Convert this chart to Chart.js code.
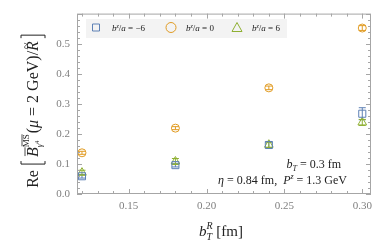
<!DOCTYPE html>
<html>
<head>
<meta charset="utf-8">
<script src="https://cdn.jsdelivr.net/npm/chart.js@4.4.1/dist/chart.umd.min.js"></script>
<style>
  html, body { margin: 0; padding: 0; background: #fff; }
  #wrap { width: 382px; height: 243px; }
</style>
</head>
<body>
<div id="wrap"><canvas id="chart"></canvas></div>
<script>
// data
const bR = [0.12, 0.18, 0.24, 0.30];
const seriesNames = ["-6", "0", "6"];
const valsM6 = [0.059, 0.096, 0.163, 0.267];
const errM6 = [0.006, 0.006, 0.009, 0.020];
const vals0 = [0.137, 0.219, 0.353, 0.552];
const err0 = [0.005, 0.005, 0.006, 0.008];
const valsP6 = [0.071, 0.108, 0.164, 0.238];
const errP6 = [0.008, 0.010, 0.010, 0.010];
const xTicks = [0.15, 0.20, 0.25, 0.30];
const yTicks = [0.0, 0.1, 0.2, 0.3, 0.4, 0.5];

const BLUE = "#5E81B5", ORANGE = "#E19C24", GREEN = "#8FB032";
const SERIF = "'Liberation Serif', 'DejaVu Serif', serif";

function pts(ys) {
    return bR.map((x, i) => ({ x: x, y: ys[i] }));
}

// small rich-text helper: parts drawn left to right on a baseline
function partWidth(ctx, p) {
    if (p.gap) return p.gap;
    if (p.bracket) return 5;
    if (p.stack) return Math.max(...p.stack.map(row => row.reduce((s, q) => s + partWidth(ctx, q), 0)));
    ctx.font = p.f;
    return ctx.measureText(p.t).width;
}
function drawParts(ctx, parts, x, y) {
    parts.forEach(p => {
        const w = partWidth(ctx, p);
        if (p.stack) {
            p.stack.forEach(row => drawParts(ctx, row, x, y));
        } else if (p.bracket) {
            ctx.beginPath();
            const x0 = p.bracket === "[" ? x + 4 : x + 1;
            const x1 = p.bracket === "[" ? x + 1 : x + 4;
            ctx.moveTo(x0, y - 17); ctx.lineTo(x1, y - 17);
            ctx.lineTo(x1, y + 7); ctx.lineTo(x0, y + 7);
            ctx.lineWidth = 1; ctx.stroke();
        } else if (!p.gap) {
            ctx.font = p.f;
            const yy = y + (p.dy || 0);
            ctx.fillText(p.t, x, yy);
            if (p.over) {
                ctx.beginPath();
                ctx.moveTo(x + 1, yy - p.over); ctx.lineTo(x + w, yy - p.over);
                ctx.lineWidth = 0.8; ctx.stroke();
            }
            if (p.tilde) {
                ctx.font = "12px " + SERIF;
                ctx.fillText("~", x + w * 0.2, yy - p.tilde);
            }
        }
        x += w;
    });
}
function textWidth(ctx, parts) {
    return parts.reduce((s, p) => s + partWidth(ctx, p), 0);
}

function drawMarker(ctx, kind, x, y, color) {
    ctx.save();
    ctx.strokeStyle = color; ctx.lineWidth = 1;
    ctx.beginPath();
    if (kind === "rect") ctx.rect(x - 3.5, y - 3.5, 7, 7);
    else if (kind === "circle") ctx.arc(x, y, 5, 0, Math.PI * 2);
    else { ctx.moveTo(x, y - 5); ctx.lineTo(x + 5, y + 4); ctx.lineTo(x - 5, y + 4); ctx.closePath(); }
    ctx.stroke();
    ctx.restore();
}

const errorBars = {
    id: "errorBars",
    beforeDatasetsDraw(chart) {
        const ctx = chart.ctx, xs = chart.scales.x, ys = chart.scales.y;
        chart.data.datasets.forEach(ds => {
            ctx.save();
            ctx.strokeStyle = ds.borderColor; ctx.lineWidth = 1;
            ds.data.forEach((p, i) => {
                const px = xs.getPixelForValue(p.x);
                const top = ys.getPixelForValue(p.y + ds.err[i]);
                const bot = ys.getPixelForValue(p.y - ds.err[i]);
                ctx.beginPath();
                ctx.moveTo(px, top); ctx.lineTo(px, bot);
                ctx.moveTo(px - 3.5, top); ctx.lineTo(px + 3.5, top);
                ctx.moveTo(px - 3.5, bot); ctx.lineTo(px + 3.5, bot);
                ctx.stroke();
            });
            ctx.restore();
        });
    }
};

const frame = {
    id: "frame",
    afterDraw(chart) {
        const ctx = chart.ctx, a = chart.chartArea, xs = chart.scales.x, ys = chart.scales.y;
        ctx.save();
        ctx.strokeStyle = "#a6a6a6"; ctx.lineWidth = 1;
        ctx.strokeRect(a.left + 0.5, a.top + 0.5, a.right - a.left - 1, a.bottom - a.top - 1);
        ctx.beginPath();
        for (let k = 12; k <= 30; k++) {
            const v = k / 100, px = Math.round(xs.getPixelForValue(v)) + 0.5;
            const len = k % 5 === 0 ? 5 : 3;
            ctx.moveTo(px, a.bottom); ctx.lineTo(px, a.bottom - len);
            ctx.moveTo(px, a.top); ctx.lineTo(px, a.top + len);
        }
        for (let k = 0; k <= 30; k++) {
            const v = k / 50, py = Math.round(ys.getPixelForValue(v)) + 0.5;
            const len = k % 5 === 0 ? 5 : 3;
            ctx.moveTo(a.left, py); ctx.lineTo(a.left + len, py);
            ctx.moveTo(a.right, py); ctx.lineTo(a.right - len, py);
        }
        ctx.stroke();

        // legend
        ctx.fillStyle = "#f3f3f3";
        ctx.fillRect(86, 19, 201, 19);
        const kinds = ["rect", "circle", "triangle"];
        const cols = [BLUE, ORANGE, GREEN];
        const mx = [96, 171, 237], tx = [112, 186, 252];
        ctx.fillStyle = "#222"; ctx.strokeStyle = "#222";
        seriesNames.forEach((n, i) => {
            drawMarker(ctx, kinds[i], mx[i], 27.5, cols[i]);
            ctx.fillStyle = "#222";
            drawParts(ctx, [
                { t: "b", f: "italic 9px " + SERIF },
                { t: "z", f: "italic 6px " + SERIF, dy: -3 },
                { t: "/", f: "9px " + SERIF },
                { t: "a", f: "italic 9px " + SERIF },
                { t: " = " + n.replace("-", "\u2212"), f: "9px " + SERIF }
            ], tx[i], 31);
        });

        // annotations
        ctx.fillStyle = "#222"; ctx.strokeStyle = "#222";
        const l1 = [
            { t: "b", f: "italic 12px " + SERIF },
            { t: "T", f: "italic 8px " + SERIF, dy: 3 },
            { t: " = 0.3 fm", f: "12px " + SERIF }
        ];
        drawParts(ctx, l1, 341 - textWidth(ctx, l1), 168);
        const l2 = [
            { t: "\u03b7", f: "italic 12px " + SERIF },
            { t: " = 0.84 fm,  ", f: "12px " + SERIF },
            { t: "P", f: "italic 12px " + SERIF },
            { t: "z", f: "italic 8px " + SERIF, dy: -5 },
            { t: " = 1.3 GeV", f: "12px " + SERIF }
        ];
        drawParts(ctx, l2, 347 - textWidth(ctx, l2), 184);

        // x title
        const xt = [
            { t: "b", f: "italic 15px " + SERIF },
            { stack: [[{ t: "R", f: "italic 10px " + SERIF, dy: -7 }], [{ t: "T", f: "italic 10px " + SERIF, dy: 4 }]] },
            { t: " [fm]", f: "15px " + SERIF }
        ];
        drawParts(ctx, xt, 221 - textWidth(ctx, xt) / 2, 236);

        // y title
        const yt = [
            { t: "Re", f: "16px " + SERIF },
            { gap: 5 },
            { bracket: "[" },
            { gap: 3 },
            { t: "B", f: "italic 16px " + SERIF, over: 13 },
            { stack: [
                [{ t: "MS", f: "9px " + SERIF, dy: -9, over: 7 }],
                [{ t: "\u03b3", f: "italic 9px " + SERIF, dy: 4 }, { t: "4", f: "6px " + SERIF, dy: 1 }]
            ] },
            { gap: 1 },
            { t: "(", f: "16px " + SERIF },
            { t: "\u03bc", f: "italic 16px " + SERIF },
            { t: " = 2 GeV)/", f: "16px " + SERIF },
            { t: "R", f: "italic 16px " + SERIF, tilde: 8 },
            { gap: 2 },
            { bracket: "]" }
        ];
        ctx.translate(38, 111);
        ctx.rotate(-Math.PI / 2);
        drawParts(ctx, yt, -textWidth(ctx, yt) / 2, 0);
        ctx.restore();
    }
};

new Chart(document.getElementById("chart"), {
    type: "scatter",
    data: {
        datasets: [
            { label: "bz/a = -6", data: pts(valsM6), err: errM6, borderColor: BLUE, backgroundColor: "rgba(0,0,0,0)", pointStyle: "rect", pointRadius: 5, borderWidth: 1 },
            { label: "bz/a = 0", data: pts(vals0), err: err0, borderColor: ORANGE, backgroundColor: "rgba(0,0,0,0)", pointStyle: "circle", pointRadius: 4, borderWidth: 1 },
            { label: "bz/a = 6", data: pts(valsP6), err: errP6, borderColor: GREEN, backgroundColor: "rgba(0,0,0,0)", pointStyle: "triangle", pointRadius: 5, borderWidth: 1 }
        ]
    },
    options: {
        responsive: true,
        maintainAspectRatio: false,
        animation: false,
        layout: { padding: { left: 0, top: 8, right: 11, bottom: 0 } },
        plugins: { legend: { display: false }, tooltip: { enabled: false } },
        scales: {
            x: {
                min: 0.1168, max: 0.3056,
                afterBuildTicks: s => { s.ticks = xTicks.map(v => ({ value: v })); },
                afterFit: s => { s.height = 49; },
                grid: { display: false, drawTicks: false },
                border: { display: false },
                ticks: { padding: 6, color: "#808080", font: { family: SERIF, size: 11 }, callback: v => v.toFixed(2) }
            },
            y: {
                min: 0, max: 0.6,
                afterBuildTicks: s => { s.ticks = yTicks.map(v => ({ value: v })); },
                afterFit: s => { s.width = 77; },
                grid: { display: false, drawTicks: false },
                border: { display: false },
                ticks: { padding: 7, color: "#808080", font: { family: SERIF, size: 11 }, callback: v => v.toFixed(1) }
            }
        }
    },
    plugins: [errorBars, frame]
});
</script>
</body>
</html>
